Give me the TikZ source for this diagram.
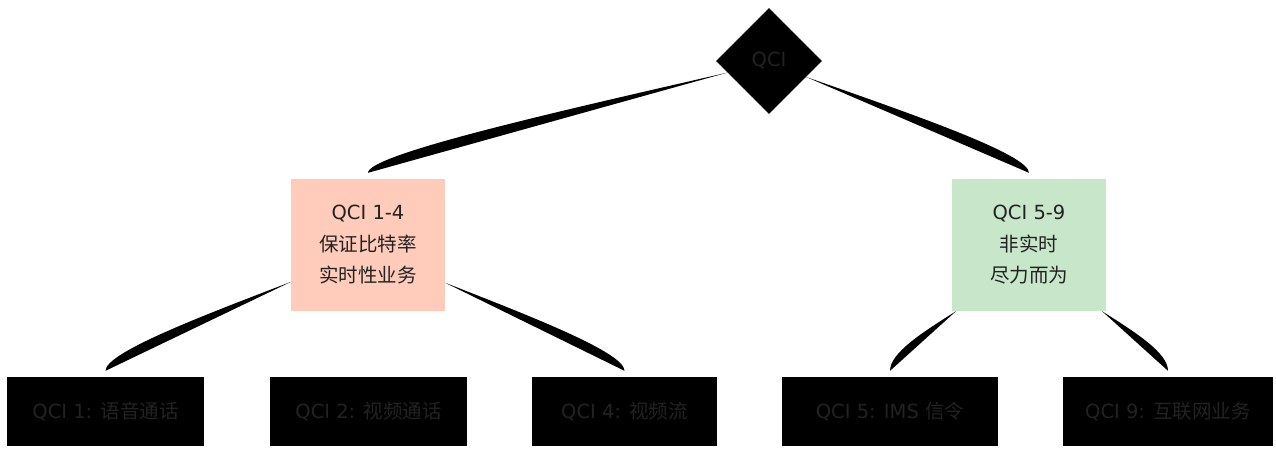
\documentclass[tikz,border=0pt]{standalone}
\usepackage{fontspec}
\setmainfont{DejaVu Sans}
\newfontfamily\cjk{Noto Sans CJK SC}
\usepackage{tikz}
\usetikzlibrary{calc, positioning, shapes.geometric}
\definecolor{gbrfill}{HTML}{FFCBBB}
\definecolor{ngbrfill}{HTML}{C8E6C9}
\definecolor{labelgray}{HTML}{222222}

\newcommand{\qciwedge}[2]{%
    \coordinate (#2-e) at ([yshift=6pt]#2.north);
    \path (#1) -- coordinate[pos=0] (#2-t) (#2-e);
    \fill[wedge] (#2-t) -- (#2-e) .. controls ([yshift=18pt]#2-e) and ([yshift=9pt]$(#2-t)!0.5!(#2-e)$) .. (#2-t);
}

\begin{document}
\begin{tikzpicture}[x=1pt, y=-1pt,
        every node/.style = {text=labelgray, font=\fontsize{19.5}{31.5}\selectfont, inner sep=0pt},
        rootnode/.style = {diamond, fill=black, minimum width=106pt, minimum height=106pt},
        groupnode/.style = {rectangle, align=center, minimum width=154pt, minimum height=132pt},
        leafnode/.style = {rectangle, fill=black, minimum height=69pt},
        wedge/.style = {black}
    ]
    \useasboundingbox (0,0) rectangle (1276,450);

    \node [rootnode] (qci) at (769,61) {QCI};
    \node [groupnode, fill=gbrfill] (gbr) at (368,245) {QCI 1-4\\{\cjk 保证比特率}\\{\cjk 实时性业务}};
    \node [groupnode, fill=ngbrfill] (ngbr) at (1029,245) {QCI 5-9\\{\cjk 非实时}\\{\cjk 尽力而为}};

    \node [leafnode, minimum width=197pt] (q1) at (105.5,411.5) {QCI 1: {\cjk 语音通话}};
    \node [leafnode, minimum width=197pt] (q2) at (368.5,411.5) {QCI 2: {\cjk 视频通话}};
    \node [leafnode, minimum width=185pt] (q4) at (624.5,411.5) {QCI 4: {\cjk 视频流}};
    \node [leafnode, minimum width=216pt] (q5) at (890,411.5) {QCI 5: IMS {\cjk 信令}};
    \node [leafnode, minimum width=210pt] (q9) at (1168,411.5) {QCI 9: {\cjk 互联网业务}};

    \qciwedge{qci}{gbr}
    \qciwedge{qci}{ngbr}
    \qciwedge{gbr}{q1}
    \qciwedge{gbr}{q4}
    \qciwedge{ngbr}{q5}
    \qciwedge{ngbr}{q9}
\end{tikzpicture}
\end{document}
